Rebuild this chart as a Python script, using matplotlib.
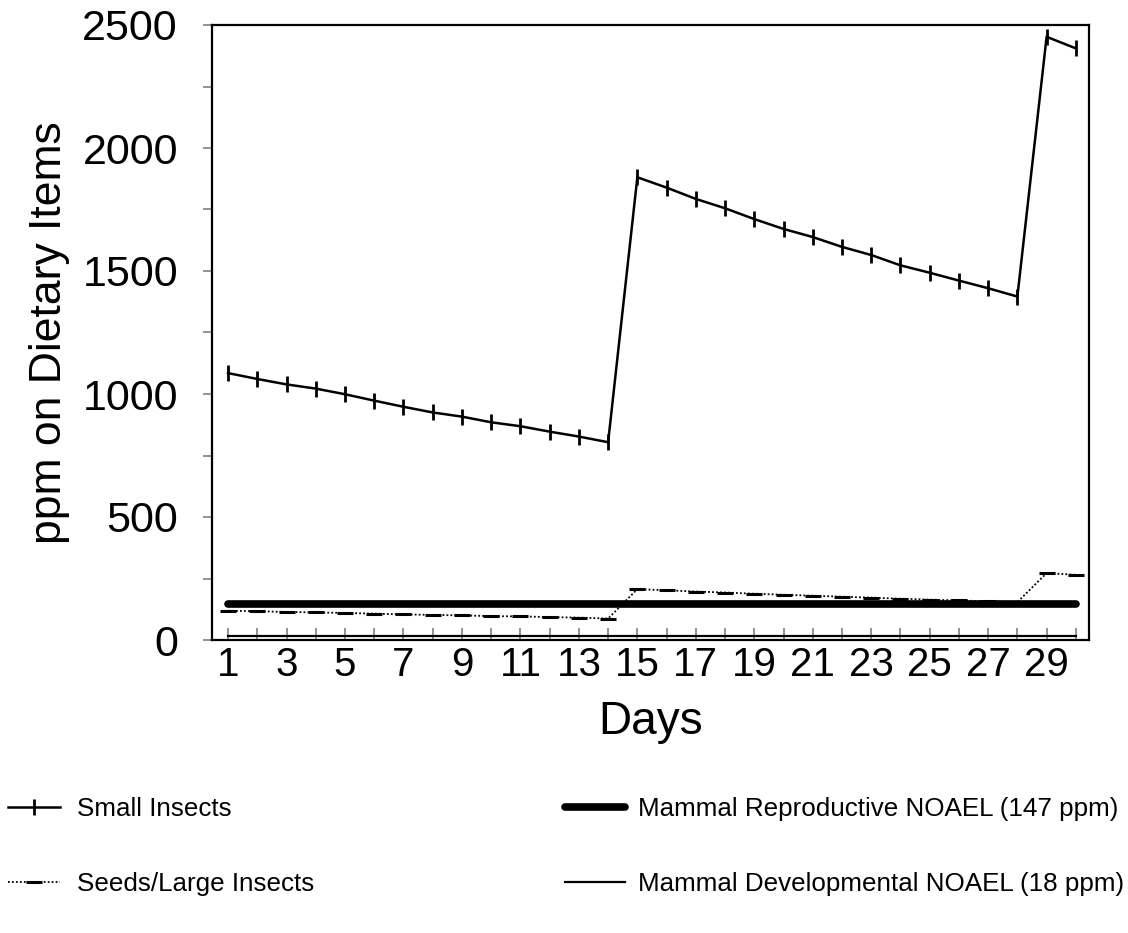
import matplotlib
matplotlib.use("Agg")
import matplotlib.pyplot as plt
from matplotlib.ticker import MultipleLocator, FixedLocator

plt.rcParams['font.family'] = ['Liberation Sans', 'DejaVu Sans']

days = list(range(1, 31))

small_insects = [1085, 1061, 1039, 1022, 999, 973, 948, 925, 908, 885, 869, 847, 827, 804,
                 1881, 1839, 1793, 1755, 1711, 1671, 1638, 1598, 1565, 1523, 1493, 1461, 1430, 1396,
                 2452, 2405]

seeds_large_insects = [119, 117, 114, 112, 110, 107, 104, 102, 100, 97, 96, 93, 91, 87,
                       207, 202, 197, 193, 188, 184, 180, 176, 172, 168, 164, 161, 157, 154,
                       272, 265]

repro_noael = 147
devel_noael = 18

series_labels = ["Small Insects", "Seeds/Large Insects",
                 "Mammal Reproductive NOAEL (147 ppm)", "Mammal Developmental NOAEL (18 ppm)"]
x_tick_labels = [str(d) if d % 2 == 1 else "" for d in days]
y_major = [0, 500, 1000, 1500, 2000, 2500]

fig = plt.figure(figsize=(11.28, 9.33), dpi=100)
ax = fig.add_axes([212 / 1128, 1 - 640 / 933, (1089 - 212) / 1128, (640 - 25) / 933])

ax.plot(days, small_insects, color='black', lw=1.8, marker='|', ms=12, mew=2.0,
        label=series_labels[0])
ax.plot(days, seeds_large_insects, color='black', lw=1.3, ls=(0, (1, 1.2)), marker='_',
        ms=12, mew=2.2, label=series_labels[1])
ax.plot([days[0], days[-1]], [repro_noael, repro_noael], color='black', lw=5.5,
        solid_capstyle='round', label=series_labels[2])
ax.plot([days[0], days[-1]], [devel_noael, devel_noael], color='black', lw=1.6,
        label=series_labels[3])

ax.set_xlim(0.45, 30.45)
ax.set_ylim(0, 2500)

ax.xaxis.set_major_locator(FixedLocator(days))
ax.set_xticklabels(x_tick_labels)
ax.yaxis.set_major_locator(FixedLocator(y_major))
ax.yaxis.set_minor_locator(MultipleLocator(250))

ax.tick_params(axis='x', which='major', direction='in', length=8.5, width=1.2,
               color='#808080', labelsize=29, pad=4)
ax.tick_params(axis='y', which='major', direction='out', length=6.5, width=1.2,
               color='#808080', labelsize=31, pad=18)
ax.tick_params(axis='y', which='minor', direction='out', length=6.5, width=1.2,
               color='#808080')

for sp in ax.spines.values():
    sp.set_linewidth(1.6)
    sp.set_color('black')

ax.set_xlabel("Days", fontsize=33, labelpad=12)
ax.set_ylabel("ppm on Dietary Items", fontsize=32)
ax.yaxis.set_label_coords(-0.162, 0.5)

handles, labels = ax.get_legend_handles_labels()

leg1 = fig.legend(handles[:2], labels[:2], loc='upper left',
                  bbox_to_anchor=(8 / 1128, 1 - 797 / 933), frameon=False,
                  fontsize=18.7, handlelength=2.0, handletextpad=0.65,
                  labelspacing=1.95, borderpad=0, borderaxespad=0, numpoints=1)
leg2 = fig.legend(handles[2:], labels[2:], loc='upper left',
                  bbox_to_anchor=(565 / 1128, 1 - 797 / 933), frameon=False,
                  fontsize=18.7, handlelength=2.3, handletextpad=0.5,
                  labelspacing=1.95, borderpad=0, borderaxespad=0, numpoints=1)

fig.savefig("out.png", dpi=100)
